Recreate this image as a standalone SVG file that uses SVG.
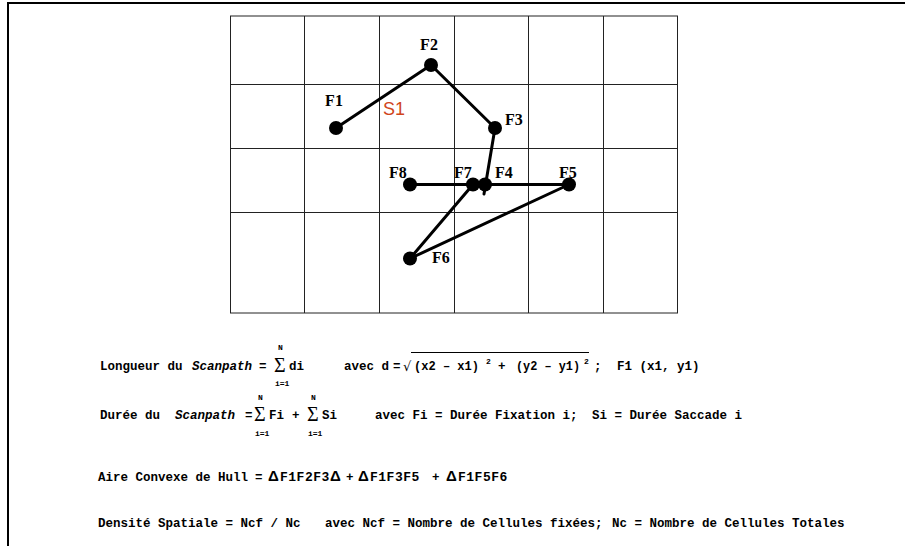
<svg xmlns="http://www.w3.org/2000/svg" width="905" height="546" viewBox="0 0 905 546">
<style>
.grid{stroke:#222;stroke-width:1;fill:none}
.path{stroke:#000;stroke-width:3;fill:none;stroke-linecap:round}
.dot{fill:#000}
.lbl{font-family:"Liberation Serif",serif;font-size:16px;font-weight:bold;fill:#000}
.f{font-family:"Liberation Mono",monospace;font-size:12.5px;font-weight:bold;fill:#000}
.fi{font-family:"Liberation Mono",monospace;font-size:12.5px;font-weight:bold;font-style:italic;fill:#000}
.fw{font-family:"Liberation Mono",monospace;font-size:13px;font-weight:bold;letter-spacing:0.5px;fill:#000}
.sm{font-family:"Liberation Mono",monospace;font-size:8px;font-weight:bold;fill:#000}
.sig{font-family:"Liberation Serif",serif;font-size:20px;fill:#000}
.del{font-family:"Liberation Sans",sans-serif;font-size:15px;font-weight:bold;fill:#000}
</style>
<rect width="905" height="546" fill="#fff"/>
<g id="border">
<line x1="7" y1="3" x2="905" y2="3" stroke="#000" stroke-width="2"/>
<line x1="8" y1="3" x2="8" y2="546" stroke="#000" stroke-width="2"/>
</g>
<g id="grid" class="grid">
<rect x="230.5" y="16" width="447" height="297"/>
<line x1="304.5" y1="16" x2="304.5" y2="313"/>
<line x1="379.5" y1="16" x2="379.5" y2="313"/>
<line x1="454.5" y1="16" x2="454.5" y2="313"/>
<line x1="528.5" y1="16" x2="528.5" y2="313"/>
<line x1="603.5" y1="16" x2="603.5" y2="313"/>
<line x1="230.5" y1="84.5" x2="677.5" y2="84.5"/>
<line x1="230.5" y1="148.5" x2="677.5" y2="148.5"/>
<line x1="230.5" y1="212.5" x2="677.5" y2="212.5"/>
</g>
<g id="connectors" class="path">
<line x1="336" y1="128" x2="431" y2="65"/>
<line x1="431" y1="65" x2="495" y2="128"/>
<line x1="495" y1="128" x2="484" y2="194"/>
<line x1="410" y1="184.5" x2="569" y2="184.5"/>
<line x1="473" y1="184.5" x2="410" y2="258.5"/>
<line x1="410" y1="258.5" x2="569" y2="184.5"/>
</g>
<g id="F1"><circle class="dot" cx="336" cy="128" r="7"/><text class="lbl" x="334" y="106" text-anchor="middle">F1</text></g>
<g id="F2"><circle class="dot" cx="431" cy="65" r="7"/><text class="lbl" x="429" y="50" text-anchor="middle">F2</text></g>
<g id="F3"><circle class="dot" cx="495" cy="128" r="7"/><text class="lbl" x="505" y="125">F3</text></g>
<g id="F4"><circle class="dot" cx="485" cy="184.5" r="7"/><text class="lbl" x="495" y="178">F4</text></g>
<g id="F5"><circle class="dot" cx="569" cy="184.5" r="7"/><text class="lbl" x="559" y="178">F5</text></g>
<g id="F6"><circle class="dot" cx="410" cy="258.5" r="7"/><text class="lbl" x="432" y="263">F6</text></g>
<g id="F7"><circle class="dot" cx="473" cy="184.5" r="7"/><text class="lbl" x="454" y="178">F7</text></g>
<g id="F8"><circle class="dot" cx="410" cy="184.5" r="7"/><text class="lbl" x="389" y="178">F8</text></g>
<g id="S1"><text x="383" y="115" font-family="'Liberation Sans',sans-serif" font-size="18" fill="#d0451b">S1</text></g>
<g id="formula1">
<text class="f" x="100" y="370">Longueur du</text>
<text class="fi" x="192" y="370">Scanpath</text>
<text class="f" x="259" y="370">=</text>
<text class="sig" x="274" y="372">Σ</text>
<text class="sm" x="278" y="350">N</text>
<text class="sm" x="275" y="386">i=1</text>
<text class="f" x="289" y="370">di</text>
<text class="f" x="344" y="370">avec d</text>
<text class="f" x="393" y="370">=</text>
<text x="403" y="371" font-family="'DejaVu Sans',sans-serif" font-size="13" fill="#000">√</text>
<line x1="411" y1="352.5" x2="589" y2="352.5" stroke="#000" stroke-width="1"/>
<text class="f" x="414" y="370" textLength="65" lengthAdjust="spacingAndGlyphs">(x2 – x1)</text>
<text class="sm" x="486" y="364">2</text>
<text class="f" x="498" y="370">+</text>
<text class="f" x="516" y="370" textLength="64" lengthAdjust="spacingAndGlyphs">(y2 – y1)</text>
<text class="sm" x="584" y="364">2</text>
<text class="f" x="594" y="370">;</text>
<text class="f" x="617" y="370">F1 (x1, y1)</text>
</g>
<g id="formula2">
<text class="f" x="100" y="419">Durée du</text>
<text class="fi" x="175" y="419">Scanpath</text>
<text class="f" x="245" y="419">=</text>
<text class="sig" x="254" y="421">Σ</text>
<text class="sm" x="258" y="400">N</text>
<text class="sm" x="255" y="436">i=1</text>
<text class="f" x="269" y="419">Fi</text>
<text class="f" x="292" y="419">+</text>
<text class="sig" x="307" y="421">Σ</text>
<text class="sm" x="311" y="400">N</text>
<text class="sm" x="308" y="436">i=1</text>
<text class="f" x="322" y="419">Si</text>
<text class="f" x="375" y="419">avec Fi = Durée Fixation i;</text>
<text class="f" x="592" y="419">Si = Durée Saccade i</text>
</g>
<g id="formula3">
<text class="f" x="98" y="481">Aire Convexe de Hull</text>
<text class="f" x="255" y="481">=</text>
<text class="del" x="268" y="481">Δ</text>
<text class="fw" x="280" y="481">F1F2F3</text>
<text class="del" x="330" y="481">Δ</text>
<text class="f" x="346" y="481">+</text>
<text class="del" x="358" y="481">Δ</text>
<text class="fw" x="370" y="481">F1F3F5</text>
<text class="f" x="432" y="481">+</text>
<text class="del" x="446" y="481">Δ</text>
<text class="fw" x="458" y="481">F1F5F6</text>
</g>
<g id="formula4">
<text class="f" x="98" y="527">Densité Spatiale = Ncf / Nc</text>
<text class="f" x="325" y="527">avec Ncf = Nombre de Cellules fixées;</text>
<text class="f" x="612" y="527">Nc = Nombre de Cellules Totales</text>
</g>
</svg>
